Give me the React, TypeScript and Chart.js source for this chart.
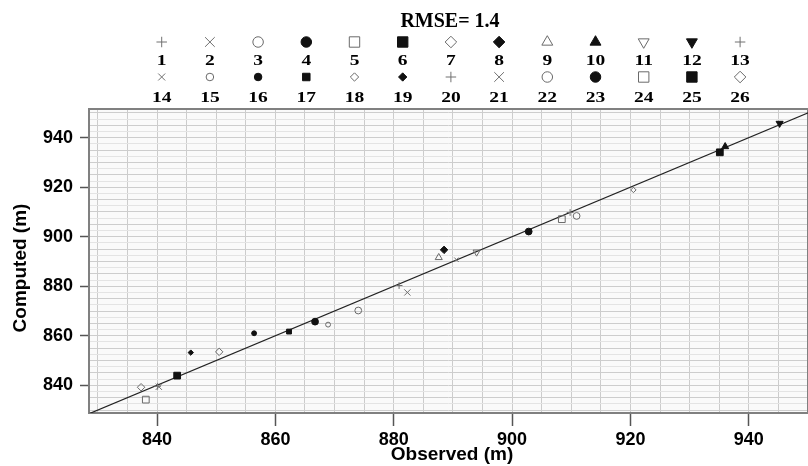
import React, { useEffect, useRef } from 'react';
import { Chart, registerables } from 'chart.js';
import { drawPoint } from 'chart.js/helpers';

Chart.register(...registerables);

// ---- data ----
const seriesLabels = ['1','2','3','4','5','6','7','8','9','10','11','12','13','14','15','16','17','18','19','20','21','22','23','24','25','26'];
const observed = [880.9, 882.3, 874.0, 866.7, 838.1, 843.4, 850.5, 888.5, 887.6, 936.0, 894.0, 945.2, 909.8, 890.6, 868.9, 856.4, 862.3, 920.5, 845.7, 840.1, 840.3, 910.9, 902.8, 908.4, 935.1, 837.3];
const computed = [880.3, 877.5, 870.2, 865.7, 834.2, 843.9, 853.5, 894.7, 891.6, 936.4, 893.8, 945.8, 909.8, 890.7, 864.5, 861.0, 861.7, 918.9, 853.2, 839.6, 839.4, 908.4, 902.1, 907.1, 934.1, 839.2];
const markerShapes = ['cross','crossRot','circle','circle','rect','rect','rectRot','rectRot','triangle','triangle','triangleDown','triangleDown','cross','crossRot','circle','circle','rect','rectRot','rectRot','cross','crossRot','circle','circle','rect','rect','rectRot'];
const markerFilled = [false,false,false,true,false,true,false,true,false,true,false,true,false,false,false,true,true,false,true,false,false,false,true,false,true,false];
const markerSmall = [false,false,false,false,false,false,false,false,false,false,false,false,false,true,true,true,true,true,true,false,false,false,false,false,false,false];
const xTickValues = [840, 860, 880, 900, 920, 940];
const yTickValues = [840, 860, 880, 900, 920, 940];
const titleText = 'RMSE= 1.4';
const xTitle = 'Observed (m)';
const yTitle = 'Computed (m)';

const X_MIN = 828.5, X_MAX = 950;
const Y_MIN = 828.8, Y_MAX = 951.6;

function baseRadius(shape: string) {
  switch (shape) {
    case 'cross': return 5;
    case 'crossRot': return 6.5;
    case 'circle': return 5;
    case 'rect': return 7;
    case 'rectRot': return 5.5;
    default: return 6;
  }
}
function styleOf(i: number, scale: number) {
  const shape = markerShapes[i];
  const small = markerSmall[i];
  const r = baseRadius(shape) * (small ? 0.72 : 1) * scale;
  const isCross = shape === 'cross' || shape === 'crossRot';
  const filled = markerFilled[i];
  return {
    pointStyle: shape === 'triangleDown' ? 'triangle' : shape,
    rotation: shape === 'triangleDown' ? 180 : 0,
    radius: r,
    stroke: isCross ? '#707070' : filled ? '#111111' : '#6a6a6a',
    fill: filled ? '#111111' : 'rgba(0,0,0,0)',
  };
}

const overlayPlugin = {
  id: 'overlay',
  beforeDraw(chart: any) {
    const { ctx, chartArea: a } = chart;
    ctx.save();
    ctx.fillStyle = '#ffffff';
    ctx.fillRect(0, 0, chart.width, chart.height);
    ctx.fillStyle = '#fafafa';
    ctx.fillRect(a.left, a.top, a.right - a.left, a.bottom - a.top);
    ctx.restore();
  },
  beforeDatasetsDraw(chart: any) {
    const { ctx, chartArea: a } = chart;
    ctx.save();
    ctx.strokeStyle = '#808080';
    ctx.lineWidth = 2;
    ctx.strokeRect(a.left, a.top, a.right - a.left, a.bottom - a.top);
    ctx.restore();
  },
  afterDraw(chart: any) {
    const { ctx } = chart;
    ctx.save();
    // title
    ctx.fillStyle = '#000';
    ctx.font = 'bold 20px "Liberation Serif", "Times New Roman", serif';
    ctx.textAlign = 'center';
    ctx.textBaseline = 'alphabetic';
    ctx.fillText(titleText, 450, 27);
    // legend
    for (let i = 0; i < seriesLabels.length; i++) {
      const row = i < 13 ? 0 : 1;
      const col = i % 13;
      const x = 161.7 + col * 48.2;
      const ySym = row === 0 ? 42 : 77;
      const yNum = row === 0 ? 65 : 102;
      const s = styleOf(i, 1.05);
      ctx.strokeStyle = s.stroke;
      ctx.fillStyle = s.fill;
      ctx.lineWidth = 1;
      drawPoint(ctx, { pointStyle: s.pointStyle, radius: s.radius, rotation: s.rotation, borderWidth: 1 } as any, x, ySym);
      ctx.save();
      ctx.translate(x, yNum);
      ctx.scale(1.3, 1);
      ctx.fillStyle = '#000';
      ctx.font = 'bold 15px "Liberation Serif", "Times New Roman", serif';
      ctx.textAlign = 'center';
      ctx.textBaseline = 'alphabetic';
      ctx.fillText(seriesLabels[i], 0, 0);
      ctx.restore();
    }
    // axis titles
    ctx.fillStyle = '#000';
    ctx.font = 'bold 19px "Liberation Sans", Arial, sans-serif';
    ctx.textAlign = 'center';
    ctx.textBaseline = 'middle';
    ctx.fillText(xTitle, 452, 455);
    ctx.save();
    ctx.translate(21, 268);
    ctx.rotate(-Math.PI / 2);
    ctx.fillText(yTitle, 0, 0);
    ctx.restore();
    ctx.restore();
  },
};

export default function App() {
  const ref = useRef<HTMLCanvasElement>(null);
  useEffect(() => {
    if (!ref.current) return;
    const scatterSets = seriesLabels.map((lab, i) => {
      const s = styleOf(i, 0.68);
      return {
        type: 'scatter' as const,
        label: lab,
        data: [{ x: observed[i], y: computed[i] }],
        pointStyle: s.pointStyle,
        rotation: s.rotation,
        pointRadius: s.radius,
        pointBorderWidth: 1,
        borderColor: s.stroke,
        backgroundColor: s.fill,
        order: 1,
      };
    });
    const lineSet = {
      type: 'line' as const,
      label: 'y = x',
      data: [{ x: 820, y: 820 }, { x: 960, y: 960 }],
      borderColor: '#222222',
      borderWidth: 1.2,
      pointRadius: 0,
      clip: 0,
      order: 100,
    };
    const tickColor = (c: any) => (c.tick && Math.abs(c.tick.value % 20) < 1e-6 && c.tick.value >= 840 && c.tick.value <= 940 ? '#555555' : 'rgba(0,0,0,0)');
    const zeroPad = (scale: any) => {
      scale.paddingLeft = 0;
      scale.paddingRight = 0;
      scale.paddingTop = 0;
      scale.paddingBottom = 0;
    };
    const chart = new Chart(ref.current, {
      type: 'scatter',
      data: { datasets: [lineSet as any, ...scatterSets] },
      options: {
        animation: false,
        responsive: false,
        devicePixelRatio: 1,
        layout: { autoPadding: false, padding: { top: 109, left: 0, right: 0, bottom: 0 } },
        plugins: { legend: { display: false }, tooltip: { enabled: false }, title: { display: false } },
        font: { family: '"Liberation Sans", Arial, sans-serif' },
        scales: {
          x: {
            type: 'linear',
            min: X_MIN,
            max: X_MAX,
            afterBuildTicks: (scale: any) => {
              const t = [];
              for (let v = 830; v <= 950; v += 5) t.push({ value: v });
              scale.ticks = t;
            },
            afterFit: (scale: any) => { scale.height = 53; zeroPad(scale); },
            ticks: {
              autoSkip: false,
              maxRotation: 0,
              padding: 3,
              color: '#000',
              font: { family: '"Liberation Sans", Arial, sans-serif', size: 18, weight: 'bold' },
              callback: (v: any) => (xTickValues.includes(Number(v)) ? String(v) : ''),
            },
            grid: {
              color: '#cccccc',
              lineWidth: 1,
              tickLength: 13,
              tickColor,
              tickWidth: 1.5,
            },
            border: { display: false },
          },
          y: {
            type: 'linear',
            min: Y_MIN,
            max: Y_MAX,
            afterBuildTicks: (scale: any) => {
              const t = [];
              for (let v = 830; v <= 950.01; v += 2.5) t.push({ value: v });
              scale.ticks = t;
            },
            afterFit: (scale: any) => { scale.width = 89; zeroPad(scale); },
            ticks: {
              autoSkip: false,
              padding: 7,
              color: '#000',
              font: { family: '"Liberation Sans", Arial, sans-serif', size: 18, weight: 'bold' },
              callback: (v: any) => (yTickValues.includes(Number(v)) ? String(v) : ''),
            },
            grid: {
              color: (c: any) => (c.tick && Math.abs(c.tick.value % 5) < 1e-6 ? '#cdcdcd' : '#e4e4e4'),
              lineWidth: 1,
              tickLength: 9,
              tickColor,
              tickWidth: 1.5,
            },
            border: { display: false },
          },
        },
      } as any,
      plugins: [overlayPlugin],
    });
    return () => chart.destroy();
  }, []);
  return (
    <div style={{ position: 'fixed', left: 0, top: 0, width: 808, height: 466, background: '#fff' }}>
      <canvas ref={ref} width={808} height={466} style={{ display: 'block', width: 808, height: 466 }} />
    </div>
  );
}
